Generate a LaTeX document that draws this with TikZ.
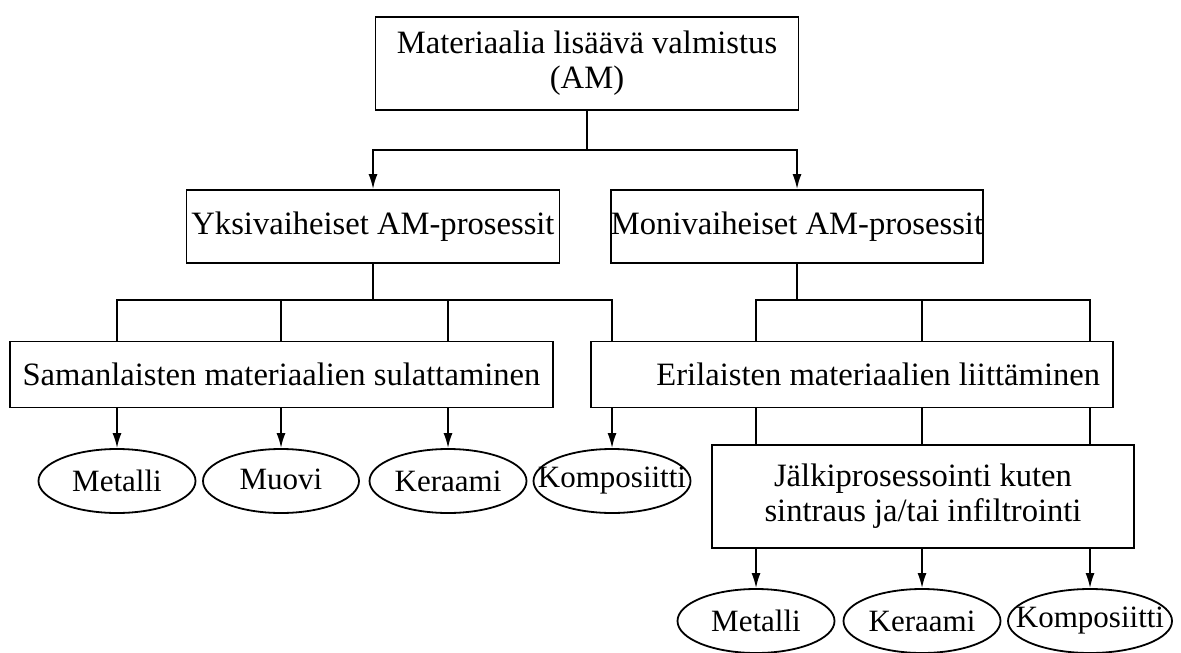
\documentclass[tikz,border=0pt]{standalone}
\usepackage{fontspec}
\setmainfont{Liberation Serif}
\usetikzlibrary{shapes,arrows.meta,positioning}

\tikzset{
  box/.style={rectangle, draw, line width=0.9pt, inner sep=0pt, align=center},
  oval/.style={ellipse, draw, line width=0.9pt, inner xsep=-10pt, inner ysep=-1pt, minimum height=32pt, font=\fontsize{15.5}{18}\selectfont},
  line/.style={line width=0.9pt},
  arr/.style={line width=0.9pt, -{Latex[length=7.5pt,width=4.5pt]}}
}

\begin{document}
\begin{tikzpicture}[x=0.5pt, y=-0.5pt, font=\fontsize{16.3}{17.5}\selectfont]
\useasboundingbox (0,0) rectangle (1181,652);
            % boxes
            \node (am) [box, minimum width=211.5pt, minimum height=46.5pt] at (587,63.5) {Materiaalia lisäävä valmistus\\(AM)};
            \node (yks) [box, minimum width=186.5pt, minimum height=36.5pt] at (373,226.5) {Yksivaiheiset AM-prosessit};
            \node (mon) [box, minimum width=186pt, minimum height=36.5pt] at (797,226.5) {Monivaiheiset AM-prosessit};
            \node (sam) [box, minimum width=271.5pt, minimum height=33pt] at (281.5,374.5) {Samanlaisten materiaalien sulattaminen};
            \node (eri) [box, minimum height=33pt, text width=248pt, align=flush right, inner xsep=6.5pt] at (852,374.5) {Erilaisten materiaalien liittäminen};
            \node (jal) [box, minimum width=211pt, minimum height=51.5pt] at (923,496.5) {Jälkiprosessointi kuten\\sintraus ja/tai infiltrointi};

            % ellipses
            \node (met1) [oval, minimum width=78.5pt] at (117,481) {Metalli};
            \node (muo1) [oval, minimum width=78pt, text depth=2pt] at (281,481) {Muovi};
            \node (ker1) [oval, minimum width=78.5pt] at (448,481) {Keraami};
            \node (kom1) [oval, minimum width=78.5pt] at (612,481) {Komposiitti};
            \node (met2) [oval, minimum width=78.5pt] at (756,621) {Metalli};
            \node (ker2) [oval, minimum width=78.5pt] at (922,621) {Keraami};
            \node (kom2) [oval, minimum width=82pt] at (1090,621) {Komposiitti};

            % connectors
            \coordinate (topsplit) at (587,150);
            \draw [line] (am.south) -- (topsplit);
            \draw [arr] (topsplit) -| (yks.north);
            \draw [arr] (topsplit) -| (mon.north);

            \coordinate (ybus) at (373,300);
            \draw [line] (yks.south) -- (ybus);
            \foreach \e in {met1,muo1,ker1} {
                \draw [line] (ybus) -| (\e |- sam.north);
                \draw [arr] (\e |- sam.south) -- (\e.north);
            }
            \draw [line] (ybus) -| (kom1 |- eri.north);
            \draw [arr] (kom1 |- eri.south) -- (kom1.north);

            \coordinate (mbus) at (797,300);
            \draw [line] (mon.south) -- (mbus);
            \foreach \e in {met2,ker2,kom2} {
                \draw [line] (mbus) -| (\e |- eri.north);
                \draw [line] (\e |- eri.south) -- (\e |- jal.north);
                \draw [arr] (\e |- jal.south) -- (\e.north);
            }
\end{tikzpicture}
\end{document}
